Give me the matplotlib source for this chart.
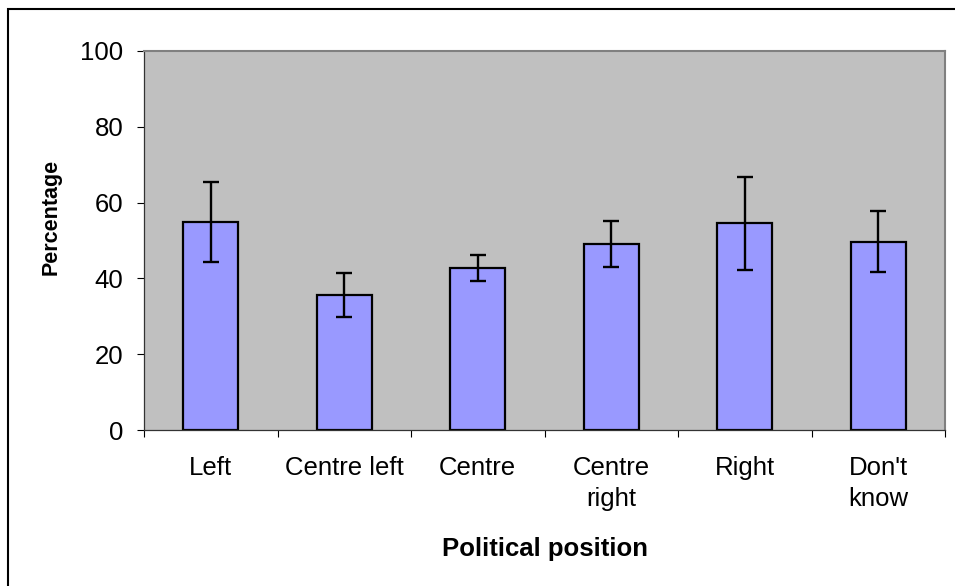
import matplotlib.pyplot as plt
from matplotlib.patches import Rectangle
import numpy as np

# data
positions = ["Left", "Centre left", "Centre", "Centre\nright", "Right", "Don't\nknow"]
percent = [54.9, 35.6, 42.7, 49.1, 54.5, 49.7]
err = [10.5, 5.7, 3.4, 6.0, 12.2, 8.1]

plt.rcParams['font.family'] = ['Liberation Sans', 'DejaVu Sans']

fig = plt.figure(figsize=(9.55, 5.86), dpi=100)
ax = fig.add_axes([144 / 955, 1 - 430 / 586, 801 / 955, 379 / 586])

x = np.arange(len(positions))
ax.bar(x, percent, width=0.41, color='#9999FF', edgecolor='black', linewidth=1.6, zorder=2)
ax.errorbar(x, percent, yerr=err, fmt='none', ecolor='black', elinewidth=1.7,
            capsize=6, capthick=1.7, zorder=3)

ax.set_facecolor('#C0C0C0')
ax.set_xlim(-0.5, len(positions) - 0.5)
ax.set_ylim(0, 100)
ax.set_yticks(range(0, 101, 20))

# ticks at the category boundaries, labels in the middle
ax.set_xticks(np.arange(-0.5, len(positions), 1.0))
ax.set_xticklabels([])
ax.set_xticks(x, minor=True)
ax.set_xticklabels(positions, minor=True, linespacing=1.35)
ax.tick_params(axis='x', which='major', length=5, width=0.8, direction='out')
ax.tick_params(axis='x', which='minor', length=0, pad=19, labelsize=18.5)
ax.tick_params(axis='y', length=5, width=0.8, pad=10, labelsize=18.5)

for s in ['top', 'right']:
    ax.spines[s].set_color('#808080')
    ax.spines[s].set_linewidth(1.5)
for s in ['left', 'bottom']:
    ax.spines[s].set_color('#333333')
    ax.spines[s].set_linewidth(0.9)

ax.set_xlabel("Political position", fontsize=18.5, fontweight='bold')
ax.xaxis.set_label_coords(0.5, (430 - 556) / 379)
ax.xaxis.label.set_va('baseline')
ax.set_ylabel("Percentage", fontsize=15.5, fontweight='bold')
ax.yaxis.set_label_coords((51 - 144) / 801, (430 - 217) / 379)
ax.yaxis.label.set_va('center')

# outer chart border (cut off at right and bottom)
fig.patches.append(Rectangle((8 / 955, -0.05), 1.1, 1 - 9 / 586 + 0.05,
                             transform=fig.transFigure, fill=False,
                             edgecolor='black', linewidth=1.5))

fig.savefig("out.png", dpi=100)
